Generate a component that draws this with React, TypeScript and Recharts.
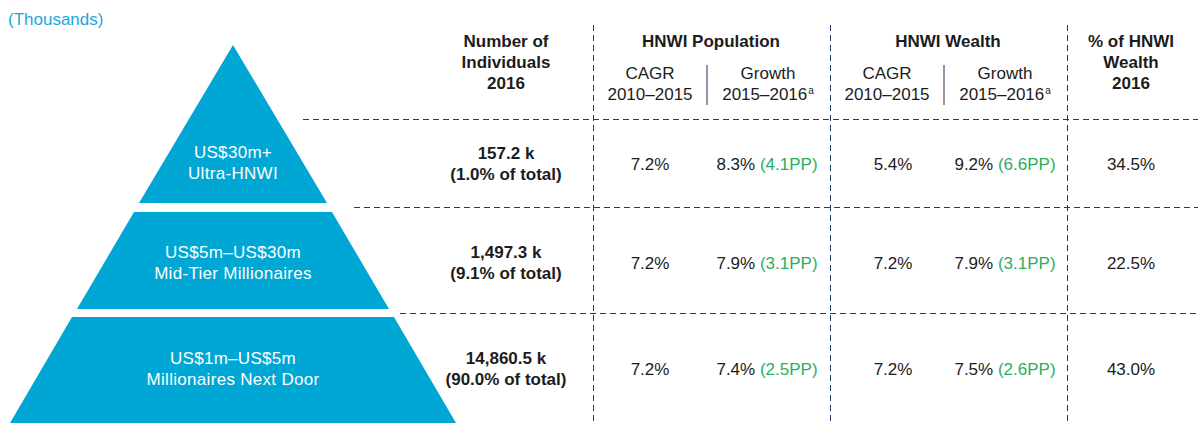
import React from 'react';
import { ComposedChart, Area, XAxis, YAxis } from 'recharts';

// ---- data ----
const tierRanges = ['US$30m+', 'US$5m–US$30m', 'US$1m–US$5m'];
const tierNames = ['Ultra-HNWI', 'Mid-Tier Millionaires', 'Millionaires Next Door'];
// pyramid bands: depth from apex and half-width at top / bottom of each band
const bandTopDepth = [0, 167, 272];
const bandBottomDepth = [158, 264, 378];
const bandTopHalf = [0, 99, 161];
const bandBottomHalf = [94, 156, 223];

const individuals = ['157.2 k', '1,497.3 k', '14,860.5 k'];
const shareOfTotal = ['1.0%', '9.1%', '90.0%'];
const popCagr = ['7.2%', '7.2%', '7.2%'];
const popGrowth = ['8.3%', '7.9%', '7.4%'];
const popGrowthPP = ['4.1PP', '3.1PP', '2.5PP'];
const wealthCagr = ['5.4%', '7.2%', '7.2%'];
const wealthGrowth = ['9.2%', '7.9%', '7.5%'];
const wealthGrowthPP = ['6.6PP', '3.1PP', '2.6PP'];
const wealthShare = ['34.5%', '22.5%', '43.0%'];

const unitLabel = '(Thousands)';
const headIndividuals = ['Number of', 'Individuals', '2016'];
const headPopulation = 'HNWI Population';
const headWealth = 'HNWI Wealth';
const headShare = ['% of HNWI', 'Wealth', '2016'];
const subCagr = ['CAGR', '2010–2015'];
const subGrowth = ['Growth', '2015–2016'];

// ---- styles / layout ----
const FONT = "'Liberation Sans', Arial, Helvetica, sans-serif";
const TEXT = '#1c1c1c';
const GREEN = '#2bae60';
const CYAN = '#1ba7db';
const PYR = '#00a7d4';
const DASH = '#213c63';
const SEP = '#4f6078';

const rowCenters = [164, 263, 369];
const pyrLabelCenters = [162.5, 262.5, 368.5];
const col = { ind: 506, pc: 650, pg: 767, wc: 887, wg: 1005, ws: 1131 };

const bands = tierNames.map((_, i) => [
  { depth: bandTopDepth[i], span: [-bandTopHalf[i], bandTopHalf[i]] },
  { depth: bandBottomDepth[i], span: [-bandBottomHalf[i], bandBottomHalf[i]] },
]);

type TBProps = {
  cx: number;
  cy: number;
  lines: React.ReactNode[];
  lh?: number;
  bold?: boolean;
  color?: string;
  size?: number;
  ls?: number;
};

function TextBlock({ cx, cy, lines, lh = 21, bold = false, color = TEXT, size = 17, ls = 0 }: TBProps) {
  const w = 300;
  return (
    <div
      style={{
        position: 'absolute',
        left: cx - w / 2,
        top: cy - (lines.length * lh) / 2,
        width: w,
        textAlign: 'center',
        fontFamily: FONT,
        fontSize: size,
        lineHeight: `${lh}px`,
        fontWeight: bold ? 700 : 400,
        color,
        letterSpacing: ls,
        whiteSpace: 'nowrap',
      }}
    >
      {lines.map((l, i) => (
        <div key={i}>{l}</div>
      ))}
    </div>
  );
}

const Sup = () => (
  <span style={{ fontSize: 10, position: 'relative', top: -6, marginLeft: 1 }}>a</span>
);

const hLines = [
  { y: 119, x1: 303 },
  { y: 207, x1: 354 },
  { y: 313, x1: 400 },
];
const vLines = [593, 830, 1067];
const seps = [707, 944];

export default function App() {
  return (
    <div
      style={{
        position: 'absolute',
        left: 0,
        top: 0,
        width: 1198,
        height: 423,
        overflow: 'hidden',
        background: '#ffffff',
      }}
    >
      <svg width={1198} height={423} style={{ position: 'absolute', left: 0, top: 0 }}>
        {hLines.map((l, i) => (
          <line key={'h' + i} x1={l.x1} x2={1198} y1={l.y + 0.5} y2={l.y + 0.5} stroke={DASH} strokeWidth={1} strokeDasharray="6 4" />
        ))}
        {vLines.map((x, i) => (
          <line key={'v' + i} x1={x + 0.5} x2={x + 0.5} y1={25} y2={423} stroke={DASH} strokeWidth={1} strokeDasharray="6 4" />
        ))}
        {seps.map((x, i) => (
          <line key={'s' + i} x1={x} x2={x} y1={65} y2={105} stroke={SEP} strokeWidth={1.3} />
        ))}
      </svg>

      <div style={{ position: 'absolute', left: 0, top: 0 }}>
        <ComposedChart
          width={466}
          height={423}
          layout="vertical"
          margin={{ top: 0, right: 0, bottom: 0, left: 0 }}
        >
          <XAxis type="number" domain={[-233, 233]} hide allowDataOverflow />
          <YAxis type="number" dataKey="depth" domain={[-45, 378]} hide allowDataOverflow />
          {bands.map((b, i) => (
            <Area
              key={i}
              data={b}
              dataKey="span"
              type="linear"
              fill={PYR}
              fillOpacity={1}
              stroke="none"
              dot={false}
              activeDot={false}
              isAnimationActive={false}
            />
          ))}
        </ComposedChart>
      </div>

      {/* unit label */}
      <div
        style={{
          position: 'absolute',
          left: 8,
          top: 9,
          fontFamily: FONT,
          fontSize: 17,
          lineHeight: '21px',
          color: CYAN,
        }}
      >
        {unitLabel}
      </div>

      {/* pyramid labels */}
      {tierNames.map((n, i) => (
        <TextBlock key={'p' + i} cx={233} cy={pyrLabelCenters[i]} lines={[tierRanges[i], n]} color="#ffffff" ls={0.3} />
      ))}

      {/* headers */}
      <TextBlock cx={col.ind} cy={62.5} lines={headIndividuals} bold />
      <TextBlock cx={711} cy={41.7} lines={[headPopulation]} bold />
      <TextBlock cx={948} cy={41.7} lines={[headWealth]} bold />
      <TextBlock cx={col.ws} cy={62.5} lines={headShare} bold />
      <TextBlock cx={col.pc} cy={83.7} lines={subCagr} />
      <TextBlock cx={768} cy={83.7} lines={[subGrowth[0], <span>{subGrowth[1]}<Sup /></span>]} />
      <TextBlock cx={col.wc} cy={83.7} lines={subCagr} />
      <TextBlock cx={1005} cy={83.7} lines={[subGrowth[0], <span>{subGrowth[1]}<Sup /></span>]} />

      {/* rows */}
      {individuals.map((v, i) => (
        <React.Fragment key={'r' + i}>
          <TextBlock cx={col.ind} cy={rowCenters[i] - 0.5} lines={[v, `(${shareOfTotal[i]} of total)`]} bold />
          <TextBlock cx={col.pc} cy={rowCenters[i]} lines={[popCagr[i]]} />
          <TextBlock
            cx={col.pg}
            cy={rowCenters[i]}
            lines={[
              <span>
                {popGrowth[i]} <span style={{ color: GREEN }}>({popGrowthPP[i]})</span>
              </span>,
            ]}
          />
          <TextBlock cx={col.wc + 6} cy={rowCenters[i]} lines={[wealthCagr[i]]} />
          <TextBlock
            cx={col.wg}
            cy={rowCenters[i]}
            lines={[
              <span>
                {wealthGrowth[i]} <span style={{ color: GREEN }}>({wealthGrowthPP[i]})</span>
              </span>,
            ]}
          />
          <TextBlock cx={col.ws} cy={rowCenters[i]} lines={[wealthShare[i]]} />
        </React.Fragment>
      ))}
    </div>
  );
}
